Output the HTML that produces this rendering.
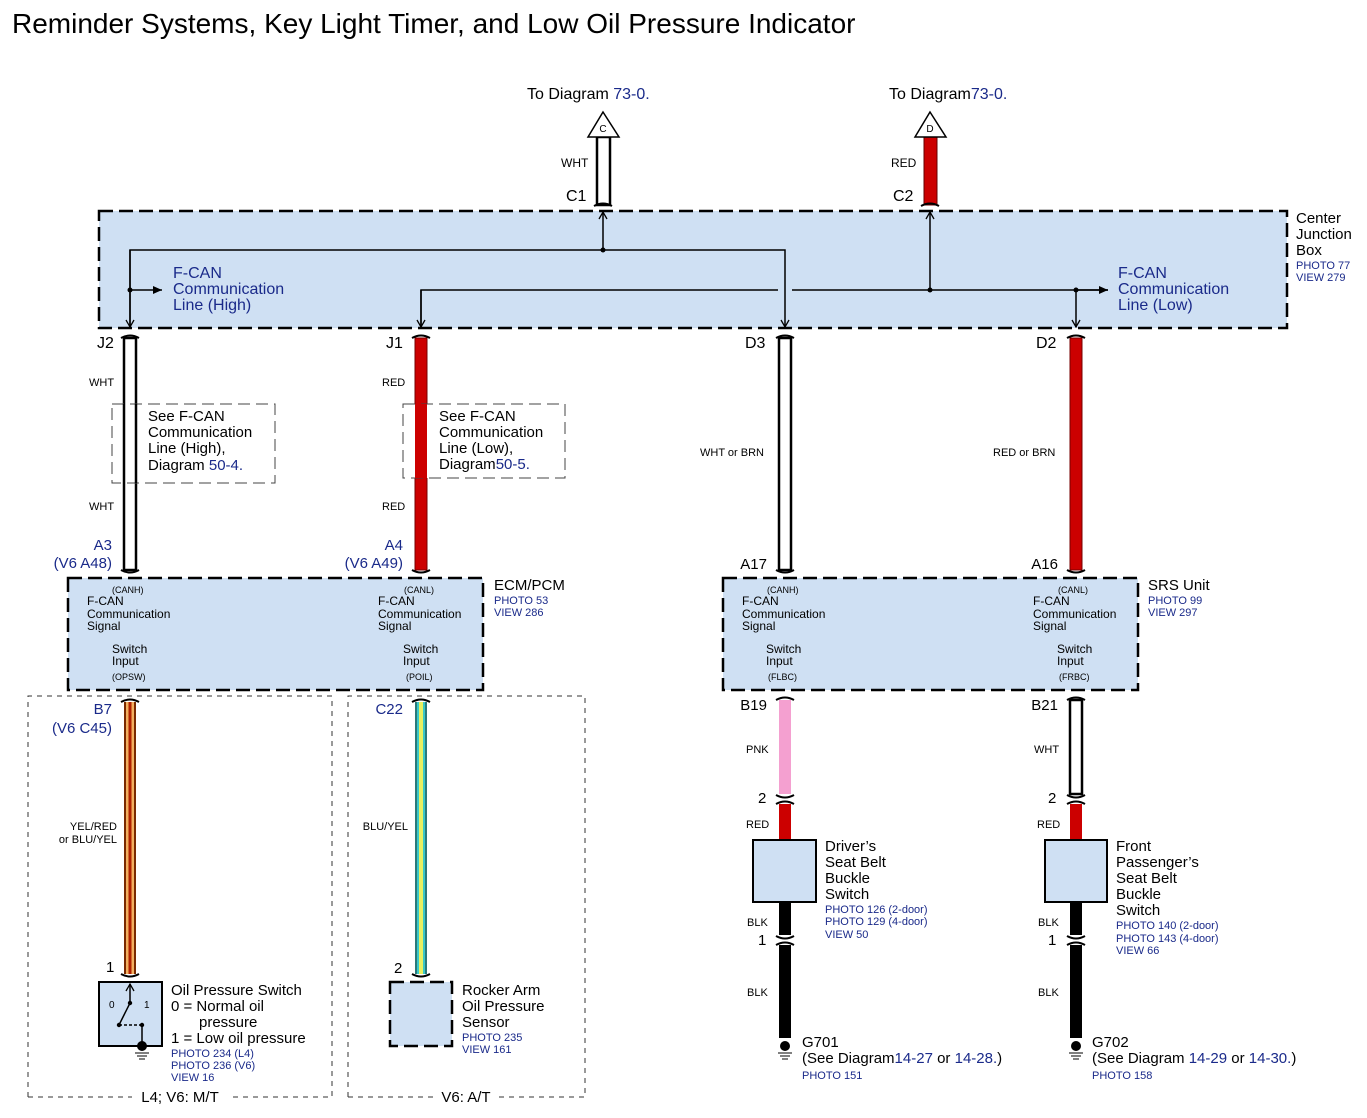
<!DOCTYPE html>
<html><head><meta charset="utf-8"><style>
html,body{margin:0;padding:0;background:#fff}
svg{display:block;font-family:"Liberation Sans",sans-serif}
.b{fill:#1a2a8a}
</style></head><body>
<svg width="1367" height="1118" viewBox="0 0 1367 1118" xmlns="http://www.w3.org/2000/svg">
<defs>
<marker id="ah" markerWidth="10" markerHeight="10" refX="8" refY="5" orient="auto" markerUnits="userSpaceOnUse"><path d="M1,1 L8,5 L1,9" fill="none" stroke="#000" stroke-width="1.3"/></marker>
<marker id="af" markerWidth="10" markerHeight="10" refX="9" refY="5" orient="auto" markerUnits="userSpaceOnUse"><path d="M0,1 L9,5 L0,9 z" fill="#000"/></marker>
</defs>
<text x="12" y="33" font-size="28">Reminder Systems, Key Light Timer, and Low Oil Pressure Indicator</text>

<!-- top arrows -->
<text x="527" y="99" font-size="16">To Diagram <tspan class="b">73-0.</tspan></text>
<text x="889" y="99" font-size="16">To Diagram<tspan class="b">73-0.</tspan></text>
<rect x="597" y="137" width="13" height="68" fill="#fff" stroke="#000" stroke-width="2.5"/>
<polygon points="603,112 588,137 619,137" fill="#fff" stroke="#000" stroke-width="1.5"/>
<text x="603" y="132" font-size="10" text-anchor="middle">C</text>
<rect x="924" y="137" width="13" height="68" fill="#c00" stroke="#600" stroke-width="1"/>
<polygon points="930,112 915,137 946,137" fill="#fff" stroke="#000" stroke-width="1.5"/>
<text x="930" y="132" font-size="10" text-anchor="middle">D</text>
<text x="561" y="167" font-size="12">WHT</text>
<text x="891" y="167" font-size="12">RED</text>
<text x="566" y="201" font-size="16">C1</text>
<text x="893" y="201" font-size="16">C2</text>
<path d="M594,206 q9,-5 18,0 M921,206 q9,-5 18,0" stroke="#000" stroke-width="2" fill="none"/>

<!-- Center junction box -->
<rect x="99" y="211" width="1188" height="117" fill="#cfe0f3" stroke="#000" stroke-width="2.5" stroke-dasharray="14,6"/>
<text x="1296" y="223" font-size="15">Center</text>
<text x="1296" y="239" font-size="15">Junction</text>
<text x="1296" y="255" font-size="15">Box</text>
<text x="1296" y="269" font-size="11" class="b">PHOTO 77</text>
<text x="1296" y="281" font-size="11" class="b">VIEW 279</text>
<g stroke="#000" stroke-width="1.5" fill="none">
<path d="M130,328 V250 H785 V327" marker-end="url(#ah)"/>
<path d="M130,250 V327" marker-end="url(#ah)"/>
<path d="M603,250 V212" marker-end="url(#ah)"/>
<path d="M421,327 V290 H778 M792,290 H1108" />
<path d="M421,290 V327" marker-end="url(#ah)"/>
<path d="M930,290 V212" marker-end="url(#ah)"/>
<path d="M1076,290 V327" marker-end="url(#ah)"/>
<path d="M130,290 H162" marker-end="url(#af)"/>
<path d="M1076,290 H1108" marker-end="url(#af)"/>
</g>
<circle cx="130" cy="290" r="2.5"/><circle cx="603" cy="250" r="2.5"/><circle cx="930" cy="290" r="2.5"/><circle cx="1076" cy="290" r="2.5"/>
<g font-size="16" class="b">
<text x="173" y="278">F-CAN</text><text x="173" y="294">Communication</text><text x="173" y="310">Line (High)</text>
<text x="1118" y="278">F-CAN</text><text x="1118" y="294">Communication</text><text x="1118" y="310">Line (Low)</text>
</g>

<!-- vertical wires from CJB -->
<g font-size="16">
<text x="97" y="348">J2</text><text x="386" y="348">J1</text><text x="745" y="348">D3</text><text x="1036" y="348">D2</text>
</g>
<rect x="124" y="338" width="12" height="232" fill="#fff" stroke="#000" stroke-width="2.5"/>
<rect x="415" y="338" width="12" height="232" fill="#c00" stroke="#700" stroke-width="1"/>
<rect x="779" y="338" width="12" height="232" fill="#fff" stroke="#000" stroke-width="2.5"/>
<rect x="1070" y="338" width="12" height="232" fill="#c00" stroke="#700" stroke-width="1"/>
<path d="M121,338 q9,-5 18,0 M412,338 q9,-5 18,0 M776,338 q9,-5 18,0 M1067,338 q9,-5 18,0 M121,570 q9,5 18,0 M412,570 q9,5 18,0 M776,570 q9,5 18,0 M1067,570 q9,5 18,0" stroke="#000" stroke-width="2" fill="none"/>
<g font-size="11">
<text x="89" y="386">WHT</text><text x="89" y="510">WHT</text>
<text x="382" y="386">RED</text><text x="382" y="510">RED</text>
<text x="700" y="456">WHT or BRN</text><text x="993" y="456">RED or BRN</text>
</g>
<g fill="#fff" stroke="#444" stroke-width="1" stroke-dasharray="12,6">
<rect x="112" y="404" width="163" height="79"/>
<rect x="403" y="404" width="162" height="74"/>
</g>
<path d="M124,404 V483 M136,404 V483" stroke="#000" stroke-width="2.5"/>
<rect x="415" y="404" width="12" height="74" fill="#c00"/>
<g font-size="15">
<text x="148" y="421">See F-CAN</text><text x="148" y="437">Communication</text><text x="148" y="453">Line (High),</text><text x="148" y="470">Diagram <tspan class="b">50-4.</tspan></text>
<text x="439" y="421">See F-CAN</text><text x="439" y="437">Communication</text><text x="439" y="453">Line (Low),</text><text x="439" y="469">Diagram<tspan class="b">50-5.</tspan></text>
</g>
<g font-size="15" class="b">
<text x="112" y="550" text-anchor="end">A3</text><text x="112" y="568" text-anchor="end">(V6 A48)</text>
<text x="403" y="550" text-anchor="end">A4</text><text x="403" y="568" text-anchor="end">(V6 A49)</text>
</g>
<text x="767" y="569" font-size="15" text-anchor="end">A17</text>
<text x="1058" y="569" font-size="15" text-anchor="end">A16</text>

<!-- ECM & SRS boxes -->
<g fill="#cfe0f3" stroke="#000" stroke-width="2.5" stroke-dasharray="14,6">
<rect x="68" y="578" width="415" height="112"/>
<rect x="723" y="578" width="415" height="112"/>
</g>
<text x="494" y="590" font-size="15">ECM/PCM</text>
<text x="494" y="604" font-size="11" class="b">PHOTO 53</text>
<text x="494" y="616" font-size="11" class="b">VIEW 286</text>
<text x="1148" y="590" font-size="15">SRS Unit</text>
<text x="1148" y="604" font-size="11" class="b">PHOTO 99</text>
<text x="1148" y="616" font-size="11" class="b">VIEW 297</text>
<g font-size="12">
<text x="112" y="593" font-size="9">(CANH)</text><text x="87" y="605">F-CAN</text><text x="87" y="618">Communication</text><text x="87" y="630">Signal</text>
<text x="112" y="653">Switch</text><text x="112" y="665">Input</text><text x="112" y="680" font-size="9">(OPSW)</text>
<text x="404" y="593" font-size="9">(CANL)</text><text x="378" y="605">F-CAN</text><text x="378" y="618">Communication</text><text x="378" y="630">Signal</text>
<text x="403" y="653">Switch</text><text x="403" y="665">Input</text><text x="406" y="680" font-size="9">(POIL)</text>
<text x="767" y="593" font-size="9">(CANH)</text><text x="742" y="605">F-CAN</text><text x="742" y="618">Communication</text><text x="742" y="630">Signal</text>
<text x="766" y="653">Switch</text><text x="766" y="665">Input</text><text x="768" y="680" font-size="9">(FLBC)</text>
<text x="1058" y="593" font-size="9">(CANL)</text><text x="1033" y="605">F-CAN</text><text x="1033" y="618">Communication</text><text x="1033" y="630">Signal</text>
<text x="1057" y="653">Switch</text><text x="1057" y="665">Input</text><text x="1059" y="680" font-size="9">(FRBC)</text>
</g>

<!-- dotted regions -->
<g fill="none" stroke="#333" stroke-width="1" stroke-dasharray="5,5">
<path d="M28,1097 V696 H332 V1097 H230 M28,1097 H132"/>
<path d="M348,1097 V696 H585 V1097 H498 M348,1097 H436"/>
</g>
<text x="180" y="1102" font-size="15" text-anchor="middle">L4; V6: M/T</text>
<text x="466" y="1102" font-size="15" text-anchor="middle">V6: A/T</text>

<!-- B7 / C22 -->
<g font-size="15" class="b">
<text x="112" y="714" text-anchor="end">B7</text><text x="112" y="733" text-anchor="end">(V6 C45)</text>
<text x="403" y="714" text-anchor="end">C22</text>
</g>
<rect x="124" y="702" width="12" height="272" fill="#7a2a00"/>
<rect x="126" y="702" width="8" height="272" fill="#f2b060"/>
<rect x="128.5" y="702" width="3" height="272" fill="#b02000"/>
<rect x="415" y="702" width="12" height="272" fill="#2a7a7a"/>
<rect x="417" y="702" width="8" height="272" fill="#3ac8c8"/>
<rect x="419" y="702" width="4" height="272" fill="#e8f060"/>
<path d="M121,702 q9,-5 18,0 M412,702 q9,-5 18,0 M121,974 q9,5 18,0 M412,974 q9,5 18,0" stroke="#000" stroke-width="2" fill="none"/>
<g font-size="11">
<text x="117" y="830" text-anchor="end">YEL/RED</text><text x="117" y="843" text-anchor="end">or BLU/YEL</text>
<text x="408" y="830" text-anchor="end">BLU/YEL</text>
</g>
<text x="106" y="972" font-size="15">1</text>
<text x="394" y="973" font-size="15">2</text>

<!-- oil pressure switch -->
<rect x="99" y="982" width="63" height="64" fill="#cfe0f3" stroke="#000" stroke-width="2"/>
<g stroke="#000" stroke-width="1.5" fill="none">
<path d="M130,1003 V984" marker-end="url(#ah)"/>
<path d="M130,1003 L119,1025"/>
<path d="M119,1025 H141" stroke-dasharray="3,2"/>
<path d="M142,1025 V1046"/>
</g>
<circle cx="130" cy="1003" r="2.2"/><circle cx="119" cy="1025" r="2.2"/><circle cx="142" cy="1025" r="2.2"/>
<circle cx="142" cy="1046" r="5"/>
<path d="M135,1053 H149 M137,1056 H147 M139,1059 H145" stroke="#000" stroke-width="1"/>
<text x="109" y="1008" font-size="10">0</text><text x="144" y="1008" font-size="10">1</text>
<g font-size="15">
<text x="171" y="995">Oil Pressure Switch</text><text x="171" y="1011">0 = Normal oil</text><text x="199" y="1027">pressure</text><text x="171" y="1043">1 = Low oil pressure</text>
</g>
<g font-size="11" class="b"><text x="171" y="1057">PHOTO 234 (L4)</text><text x="171" y="1069">PHOTO 236 (V6)</text><text x="171" y="1081">VIEW 16</text></g>

<rect x="390" y="982" width="62" height="64" fill="#cfe0f3" stroke="#000" stroke-width="2.5" stroke-dasharray="14,6"/>
<g font-size="15"><text x="462" y="995">Rocker Arm</text><text x="462" y="1011">Oil Pressure</text><text x="462" y="1027">Sensor</text></g>
<g font-size="11" class="b"><text x="462" y="1041">PHOTO 235</text><text x="462" y="1053">VIEW 161</text></g>

<!-- right lower wires -->
<g font-size="15"><text x="767" y="710" text-anchor="end">B19</text><text x="1058" y="710" text-anchor="end">B21</text></g>
<rect x="779" y="700" width="12" height="94" fill="#f4a0d0"/>
<rect x="1070" y="700" width="12" height="94" fill="#fff" stroke="#000" stroke-width="2.5"/>
<rect x="779" y="804" width="12" height="36" fill="#c00"/>
<rect x="1070" y="804" width="12" height="36" fill="#c00"/>
<rect x="779" y="902" width="12" height="33" fill="#000"/>
<rect x="1070" y="902" width="12" height="33" fill="#000"/>
<rect x="779" y="945" width="12" height="93" fill="#000"/>
<rect x="1070" y="945" width="12" height="93" fill="#000"/>
<path d="M776,700 q9,-5 18,0 M1067,700 q9,-5 18,0 M776,795 q9,5 18,0 M776,804 q9,-5 18,0 M1067,795 q9,5 18,0 M1067,804 q9,-5 18,0 M776,936 q9,5 18,0 M776,945 q9,-5 18,0 M1067,936 q9,5 18,0 M1067,945 q9,-5 18,0" stroke="#000" stroke-width="2" fill="none"/>
<g font-size="11">
<text x="746" y="753">PNK</text><text x="1034" y="753">WHT</text>
<text x="746" y="828">RED</text><text x="1037" y="828">RED</text>
<text x="747" y="926">BLK</text><text x="1038" y="926">BLK</text>
<text x="747" y="996">BLK</text><text x="1038" y="996">BLK</text>
</g>
<g font-size="15"><text x="758" y="803">2</text><text x="1048" y="803">2</text><text x="758" y="945">1</text><text x="1048" y="945">1</text></g>
<rect x="753" y="840" width="63" height="62" fill="#cfe0f3" stroke="#000" stroke-width="2"/>
<rect x="1045" y="840" width="62" height="62" fill="#cfe0f3" stroke="#000" stroke-width="2"/>
<g font-size="15">
<text x="825" y="851">Driver’s</text><text x="825" y="867">Seat Belt</text><text x="825" y="883">Buckle</text><text x="825" y="899">Switch</text>
<text x="1116" y="851">Front</text><text x="1116" y="867">Passenger’s</text><text x="1116" y="883">Seat Belt</text><text x="1116" y="899">Buckle</text><text x="1116" y="915">Switch</text>
</g>
<g font-size="11" class="b">
<text x="825" y="913">PHOTO 126 (2-door)</text><text x="825" y="925">PHOTO 129 (4-door)</text><text x="825" y="938">VIEW 50</text>
<text x="1116" y="929">PHOTO 140 (2-door)</text><text x="1116" y="942">PHOTO 143 (4-door)</text><text x="1116" y="954">VIEW 66</text>
</g>
<circle cx="785" cy="1046" r="5"/><path d="M778,1053 H792 M780,1056 H790 M782,1059 H788" stroke="#000"/>
<circle cx="1076" cy="1046" r="5"/><path d="M1069,1053 H1083 M1071,1056 H1081 M1073,1059 H1079" stroke="#000"/>
<g font-size="15">
<text x="802" y="1047">G701</text><text x="802" y="1063">(See Diagram<tspan class="b">14-27</tspan> or <tspan class="b">14-28.</tspan>)</text>
<text x="1092" y="1047">G702</text><text x="1092" y="1063">(See Diagram <tspan class="b">14-29</tspan> or <tspan class="b">14-30.</tspan>)</text>
</g>
<text x="802" y="1079" font-size="11" class="b">PHOTO 151</text>
<text x="1092" y="1079" font-size="11" class="b">PHOTO 158</text>
</svg>
</body></html>
